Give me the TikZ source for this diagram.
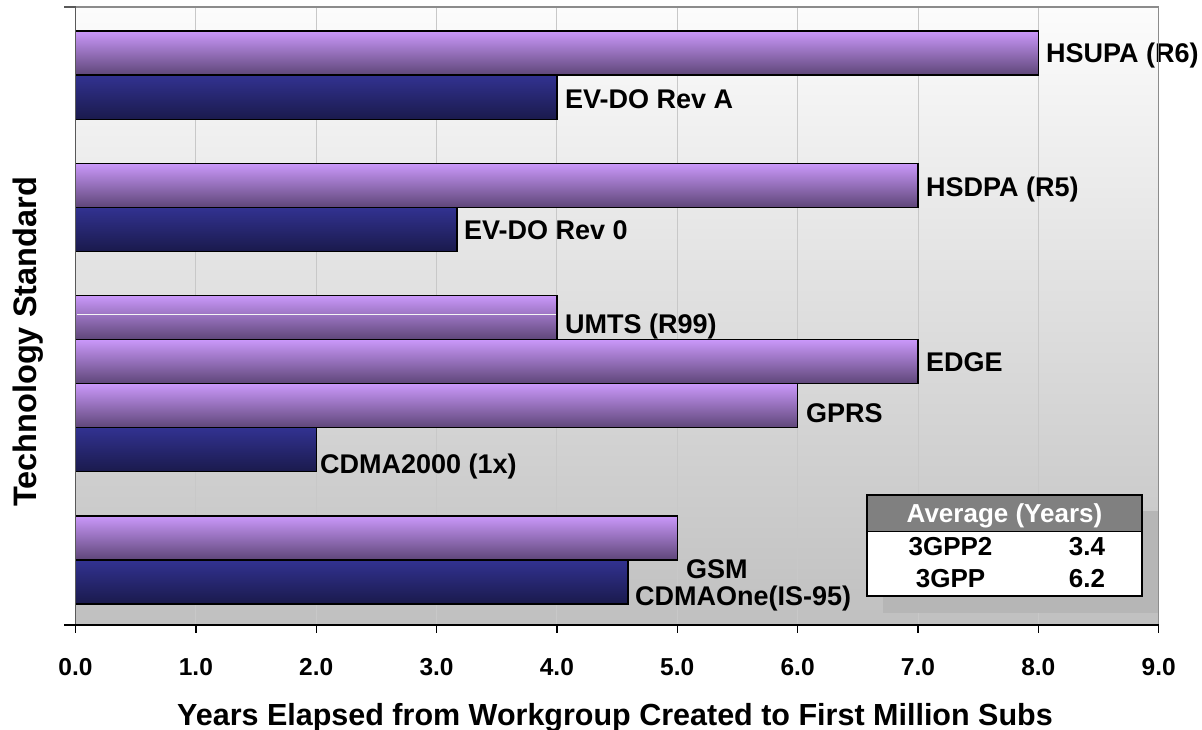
\documentclass[tikz,border=0pt]{standalone}
\usepackage{fontspec}
\setmainfont{Liberation Sans}
\definecolor{pTop}{RGB}{202,152,250}
\definecolor{pBot}{RGB}{94,70,120}
\definecolor{nTop}{RGB}{50,50,145}
\definecolor{nBot}{RGB}{26,26,76}
\definecolor{bgTop}{RGB}{252,252,252}
\definecolor{bgBot}{RGB}{192,192,192}
\definecolor{gridc}{RGB}{200,200,200}
\definecolor{shadowc}{RGB}{182,182,182}
\definecolor{headc}{RGB}{128,128,128}
\definecolor{borderc}{RGB}{140,140,140}
\begin{document}
\begin{tikzpicture}[x=1pt,y=-1pt,
  purplebar/.style={draw=black, line width=1.3pt, top color=pTop, bottom color=pBot},
  navybar/.style={draw=black, line width=1.3pt, top color=nTop, bottom color=nBot},
  barlabel/.style={anchor=base west, inner sep=0pt, font=\fontsize{27}{30}\selectfont\bfseries},
  ticklabel/.style={anchor=base, inner sep=0pt, font=\fontsize{24.5}{28}\selectfont\bfseries},
  legtext/.style={anchor=base, inner sep=0pt, font=\fontsize{26}{30}\selectfont\bfseries},
  gridline/.style={draw=gridc, line width=0.9pt},
  axistitle/.style={anchor=base, inner sep=0pt, font=\fontsize{30.5}{34}\selectfont\bfseries}]
\useasboundingbox (0,0) rectangle (1202,730);
\fill[white] (0,0) rectangle (1202,730);
% plot background
\shade[top color=bgTop, bottom color=bgBot] (75.5,7) rectangle (1158.65,625);
% grid lines
\foreach \i in {1,...,8}
  \draw[gridline] ({75.5+120.35*\i},7) -- ({75.5+120.35*\i},625);
% bars (h = 44.08)
\path[purplebar] (75.5,31) rectangle (1038.3,75.08);
\path[navybar]   (75.5,75.08) rectangle (556.9,119.16);
\path[purplebar] (75.5,163.24) rectangle (917.95,207.32);
\path[navybar]   (75.5,207.32) rectangle (457.0,251.4);
\path[purplebar] (75.5,295.48) rectangle (556.9,339.56);
\draw[white!92!gray, line width=0.8pt] (76.5,314) -- (556,314);
\path[purplebar] (75.5,339.56) rectangle (917.95,383.64);
\path[purplebar] (75.5,383.64) rectangle (797.6,427.72);
\path[navybar]   (75.5,427.72) rectangle (316.2,471.8);
\path[purplebar] (75.5,515.88) rectangle (677.25,559.96);
\path[navybar]   (75.5,559.96) rectangle (627.9,604.04);
% bar labels
\node[barlabel] (hsupa)   at (1046,63)  {HSUPA (R6)};
\node[barlabel] (evdoa)   at (565,109)  {EV-DO Rev A};
\node[barlabel] (hsdpa)   at (926,197)  {HSDPA (R5)};
\node[barlabel] (evdo0)   at (464,240)  {EV-DO Rev 0};
\node[barlabel] (umts)    at (565,333)  {UMTS (R99)};
\node[barlabel] (edge)    at (926,371)  {EDGE};
\node[barlabel] (gprs)    at (806,422)  {GPRS};
\node[barlabel] (cdma2k)  at (320,473)  {CDMA2000 (1x)};
\node[barlabel] (gsm)     at (686,578)  {GSM};
\node[barlabel] (cdmaone) at (635,605)  {CDMAOne(IS-95)};
% legend table
\fill[shadowc] (883,511) rectangle (1158.65,613);
\fill[white] (867,495) rectangle (1142,596);
\fill[headc] (867,495) rectangle (1142,531);
\draw[black, line width=1pt] (867,531) -- (1142,531);
\draw[black, line width=2.5pt] (867,495) rectangle (1142,596);
\node[legtext, text=white] (avghead) at (1004.5,522) {Average (Years)};
\node[legtext] (g2name) at (950.5,555) {3GPP2};
\node[legtext] (g2val)  at (1087,555)  {3.4};
\node[legtext] (g1name) at (950.5,587) {3GPP};
\node[legtext] (g1val)  at (1087,587)  {6.2};
% plot border and axes
\draw[borderc, line width=1.3pt] (75.5,7) -- (1158.65,7) -- (1158.65,625);
\draw[black!65, line width=1.3pt] (64,7) -- (75.5,7);
\draw[black!65, line width=1.6pt] (75.5,7) -- (75.5,625);
\draw[black, line width=1.3pt] (64,625) -- (1158.65,625);
\foreach \i in {0,...,9}{
  \draw[black, line width=1.3pt] ({75.5+120.35*\i},625) -- ({75.5+120.35*\i},633);
  \node[ticklabel] (tick\i) at ({75.5+120.35*\i},675) {\i.0};
}
% axis titles
\node[axistitle] (xtitle) at (615,725.5) {Years Elapsed from Workgroup Created to First Million Subs};
\node[axistitle, rotate=90, font=\fontsize{32.5}{36}\selectfont\bfseries] (ytitle) at (36,342) {Technology Standard};
\end{tikzpicture}
\end{document}
